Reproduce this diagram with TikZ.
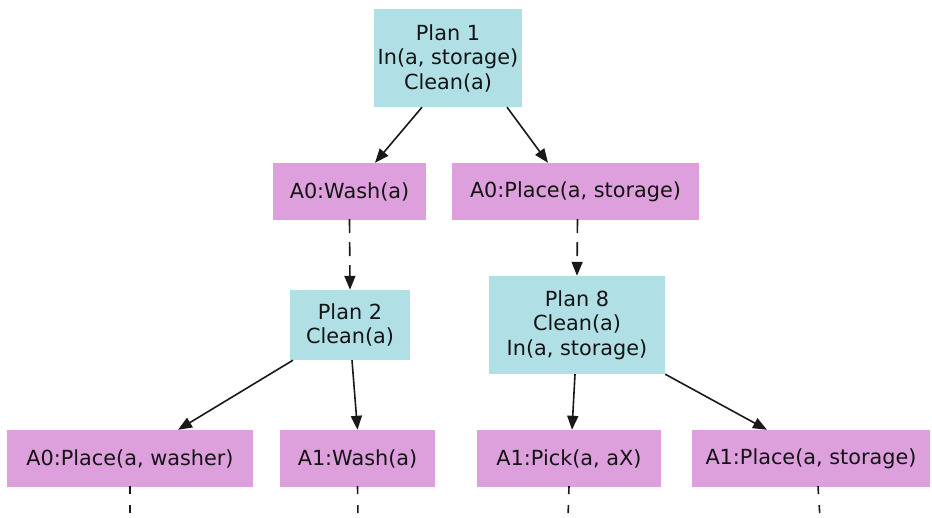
\documentclass[tikz,border=0pt]{standalone}
\usepackage{fontspec}
\setmainfont{DejaVu Sans}
\usetikzlibrary{arrows.meta}
\definecolor{planblue}{RGB}{176,224,230}
\definecolor{actpink}{RGB}{221,160,221}
\definecolor{txt}{RGB}{20,20,20}
\begin{document}
\begin{tikzpicture}[x=1pt,y=-1pt,
  base/.style={inner sep=0pt, align=center, text=txt, font=\fontsize{20.8}{24.5}\selectfont},
  planbox/.style={base, fill=planblue},
  actbox/.style={base, fill=actpink, minimum height=57pt},
  edge/.style={line width=1.6pt, draw=black!90, -{Triangle[length=14pt,width=11pt]}},
  dashedge/.style={edge, dash pattern=on 14pt off 9pt},
  tailedge/.style={line width=1.6pt, draw=black!90, dash pattern=on 8pt off 11pt}]
\useasboundingbox (0,0) rectangle (932,518);
\fill[white] (0,0) rectangle (932,518);
% nodes
\node[planbox, minimum width=148pt, minimum height=98pt] (p1) at (448,58) {Plan 1\\In(a, storage)\\Clean(a)};
\node[actbox, minimum width=153pt] (w0) at (349.5,191.5) {A0:Wash(a)};
\node[actbox, minimum width=247pt] (pl0) at (575.5,191.5) {A0:Place(a, storage)};
\node[planbox, minimum width=120pt, minimum height=70pt] (p2) at (350,325) {Plan 2\\Clean(a)};
\node[planbox, minimum width=176pt, minimum height=98pt] (p8) at (577,325) {Plan 8\\Clean(a)\\In(a, storage)};
\node[actbox, minimum width=246pt] (b1) at (130,458.5) {A0:Place(a, washer)};
\node[actbox, minimum width=155pt] (b2) at (357.5,458.5) {A1:Wash(a)};
\node[actbox, minimum width=184pt] (b3) at (569,458.5) {A1:Pick(a, aX)};
\node[actbox, minimum width=238pt] (b4) at (811,458.5) {A1:Place(a, storage)};
% free ends
\coordinate (e1) at (130,518);
\coordinate (e2) at (358,518);
\coordinate (e3) at (568,518);
\coordinate (e4) at (820,518);
% connectors
\draw[edge] ([xshift=-26pt]p1.south) -- ([xshift=25.5pt]w0.north);
\draw[edge] ([xshift=59pt]p1.south) -- ([xshift=-27.5pt]pl0.north);
\draw[dashedge] ([yshift=1pt]w0.south) -- (p2.north);
\draw[dashedge] ([xshift=2pt,yshift=1pt]pl0.south) -- (p8.north);
\draw[edge] ([xshift=-57pt]p2.south) -- ([xshift=48pt]b1.north);
\draw[edge] ([xshift=2pt]p2.south) -- (b2.north);
\draw[edge] ([xshift=-2pt]p8.south) -- ([xshift=3pt]b3.north);
\draw[edge] (p8.south east) -- ([xshift=-44pt]b4.north);
\draw[tailedge] ([yshift=1pt]b1.south) -- (e1);
\draw[tailedge] ([yshift=1pt]b2.south) -- (e2);
\draw[tailedge] ([yshift=1pt]b3.south) -- (e3);
\draw[tailedge] ([xshift=7pt,yshift=1pt]b4.south) -- (e4);
\end{tikzpicture}
\end{document}
